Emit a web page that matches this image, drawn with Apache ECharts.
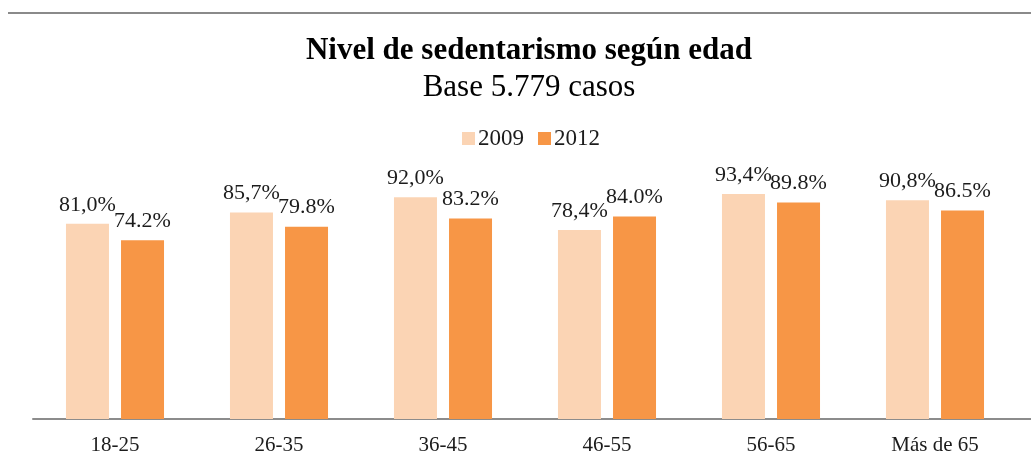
<!DOCTYPE html>
<html>
<head>
<meta charset="utf-8">
<script src="https://cdn.jsdelivr.net/npm/echarts@6/dist/echarts.min.js"></script>
<style>
  html, body { margin: 0; padding: 0; background: #fff; }
  #chart { width: 1031px; height: 465px; }
</style>
</head>
<body>
<div id="chart"></div>
<script>
var categories = ['18-25', '26-35', '36-45', '46-55', '56-65', 'Más de 65']
var values2009 = [81.0, 85.7, 92.0, 78.4, 93.4, 90.8]
var values2012 = [74.2, 79.8, 83.2, 84.0, 89.8, 86.5]

var serif = '"Liberation Serif", "DejaVu Serif", serif'
var chart = echarts.init(document.getElementById('chart'))

var labelStyle = {
  show: true,
  position: 'top',
  distance: 8,
  fontFamily: serif,
  fontSize: 22,
  color: '#1c1c1c',
}

var option = {
  animation: false,
  backgroundColor: '#fff',
  title: [
    {
      text: 'Nivel de sedentarismo según edad',
      left: 524,
      textAlign: 'center',
      top: 30,
      textStyle: { fontFamily: serif, fontWeight: 'bold', fontSize: 31, color: '#000' },
    },
    {
      text: 'Base 5.779 casos',
      left: 524,
      textAlign: 'center',
      top: 67,
      textStyle: { fontFamily: serif, fontWeight: 'normal', fontSize: 31, color: '#000' },
    },
  ],
  legend: {
    data: ['2009', '2012'],
    left: 457,
    top: 122,
    icon: 'rect',
    itemWidth: 13,
    itemHeight: 13,
    itemGap: 14,
    textStyle: { fontFamily: serif, fontSize: 23, color: '#1c1c1c', padding: [0, 0, 0, -2] },
  },
  graphic: [
    {
      type: 'line',
      shape: { x1: 8, y1: 13, x2: 1031, y2: 13 },
      style: { stroke: '#8a8a8a', lineWidth: 2 },
    },
    {
      // axis line runs on to the right edge
      type: 'line',
      shape: { x1: 1016, y1: 419, x2: 1031, y2: 419 },
      style: { stroke: '#8c8c8c', lineWidth: 2 },
    },
  ],
  grid: { left: 33, right: 14, top: 178, bottom: 46 },
  xAxis: {
    type: 'category',
    data: categories,
    axisTick: { show: false },
    axisLine: { lineStyle: { color: '#8c8c8c', width: 2 } },
    axisLabel: { fontFamily: serif, fontSize: 21, color: '#1c1c1c', margin: 16 },
  },
  yAxis: {
    type: 'value',
    min: 0,
    max: 100,
    show: false,
    splitLine: { show: false },
  },
  series: [
    {
      name: '2009',
      type: 'bar',
      data: values2009,
      barWidth: 43,
      barGap: '28%',
      itemStyle: { color: '#fbd4b4' },
      label: Object.assign({}, labelStyle, {
        formatter: function (p) {
          return p.value.toFixed(1).replace('.', ',') + '%'
        },
      }),
    },
    {
      name: '2012',
      type: 'bar',
      data: values2012,
      barWidth: 43,
      itemStyle: { color: '#f79646' },
      label: Object.assign({}, labelStyle, {
        formatter: function (p) {
          return p.value.toFixed(1) + '%'
        },
      }),
    },
  ],
}
chart.setOption(option)
</script>
</body>
</html>
